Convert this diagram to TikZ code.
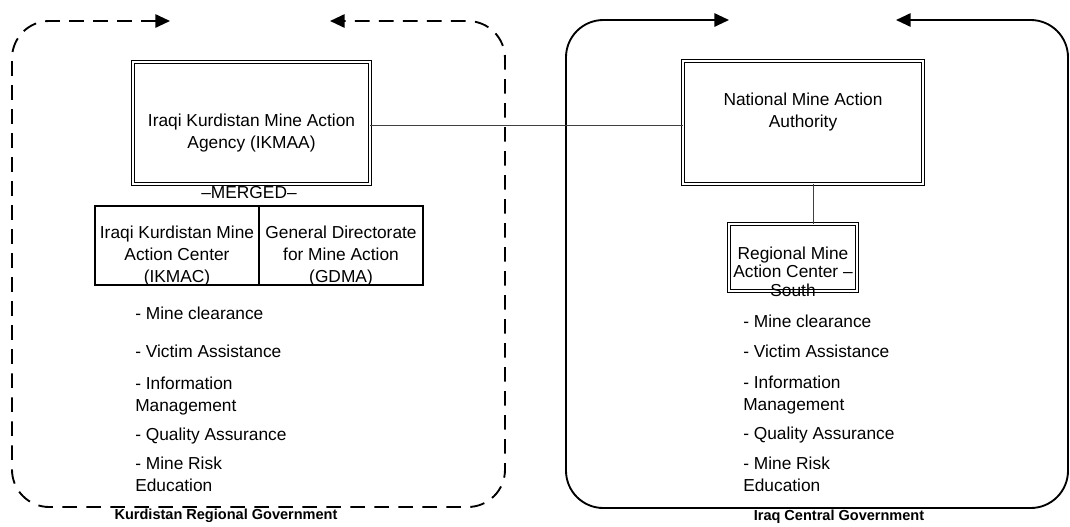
\documentclass[tikz,border=0pt]{standalone}
\usepackage{fontspec}
\setmainfont{Liberation Sans}
\usetikzlibrary{arrows.meta,positioning}

\begin{document}
\begin{tikzpicture}[
  x=0.75pt, y=-0.75pt,
  txt/.style={font=\fontsize{13}{16.5}\selectfont, align=center, inner sep=0pt},
  dbox/.style={draw, line width=0.7pt, double, double distance=1.6pt,
               inner sep=0pt, outer sep=0pt},
  sbox/.style={draw, line width=1pt, inner sep=0pt, outer sep=0pt,
               minimum width=123pt, minimum height=59.25pt},
  tasks/.style={font=\fontsize{13}{16.5}\selectfont, align=left,
                inner sep=0pt, anchor=base west},
  govt/.style={font=\fontsize{10.9}{13}\selectfont\bfseries, inner sep=0pt},
  link/.style={line width=0.7pt, color=black!75},
  region/.style={line width=1.4pt, rounded corners=28pt,
                 {Triangle[length=11pt,width=10pt]}-{Triangle[length=11pt,width=10pt]}}
]
  \useasboundingbox (0,0) rectangle (1070,526);

  % the two governments
  \draw[region, dash pattern=on 11pt off 7pt]
    (170,21) -- (12,21) -- (12,507) -- (505,507) -- (505,21) -- (330,21);
  \draw[region]
    (729,20) -- (566,20) -- (566,508) -- (1068,508) -- (1068,20) -- (896,20);

  % Kurdistan side
  \node[dbox, minimum width=177.75pt, minimum height=91.5pt] (ikmaa) at (251.5,123) {};
  \node[txt] (ikmaatxt) at ([yshift=-7.5pt]ikmaa.center)
    {Iraqi Kurdistan Mine Action\\Agency (IKMAA)};
  \node[txt] (merged) at (249,193) {--MERGED--};
  \node[sbox] (ikmac) at (177,245.5) {};
  \node[sbox, right=0pt of ikmac] (gdma) {};
  \node[txt] (ikmactxt) at ([yshift=-8pt]ikmac.center)
    {Iraqi Kurdistan Mine\\Action Center\\(IKMAC)};
  \node[txt] (gdmatxt) at ([yshift=-8pt]gdma.center)
    {General Directorate\\for Mine Action\\(GDMA)};

  % central side
  \node[dbox, minimum width=180pt, minimum height=92.25pt] (nmaa) at (803,122.5) {};
  \node[txt] (nmaatxt) at ([yshift=8pt]nmaa.center)
    {National Mine Action\\Authority};
  \node[dbox, minimum width=96pt, minimum height=50.25pt] (rmac) at (793,257.5) {};
  \node[txt, font=\fontsize{13}{14}\selectfont] (rmactxt) at ([yshift=-10.5pt]rmac.center)
    {Regional Mine\\Action Center --\\South};

  \draw[link] ([yshift=-1.5pt]ikmaa.east) -- ([yshift=-1.5pt]ikmaa.east -| nmaa.west);
  \draw[link] ([xshift=7.5pt]nmaa.south) -- ([xshift=7.5pt]nmaa.south |- rmac.north);

  % tasks (anchored at the last line)
  \node[tasks] (ktasks) at (135,491.5)
    {- Mine clearance\\[12pt]
     - Victim Assistance\\[7.5pt]
     - Information\\Management\\[5.25pt]
     - Quality Assurance\\[5.25pt]
     - Mine Risk\\Education};
  \node[tasks] (ctasks) at (743,491.5)
    {- Mine clearance\\[6pt]
     - Victim Assistance\\[6.75pt]
     - Information\\Management\\[5.25pt]
     - Quality Assurance\\[6pt]
     - Mine Risk\\Education};

  \node[govt] (krg) at (226,516) {Kurdistan Regional Government};
  \node[govt] (icg) at (839,517) {Iraq Central Government};
\end{tikzpicture}
\end{document}
